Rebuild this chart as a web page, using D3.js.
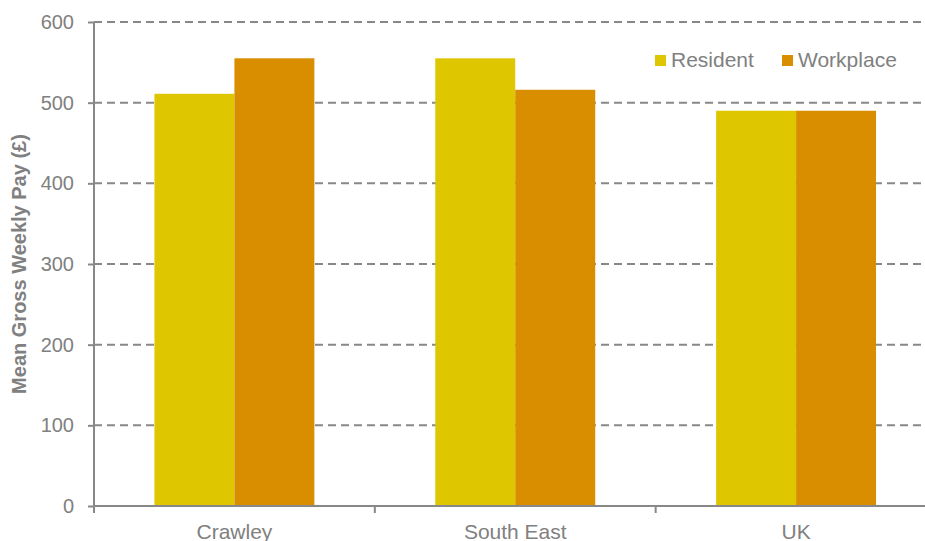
<!DOCTYPE html>
<html>
<head>
<meta charset="utf-8">
<script src="https://cdn.jsdelivr.net/npm/d3@7"></script>
<style>
  html, body { margin: 0; padding: 0; background: #fff; overflow: hidden; }
  text { font-family: "Liberation Sans", Arial, sans-serif; fill: #808080; }
</style>
</head>
<body>
<svg id="chart" width="925" height="541"></svg>
<script>
const categories = ["Crawley", "South East", "UK"];
const seriesNames = ["Resident", "Workplace"];
const residentValues = [511, 555, 490];
const workplaceValues = [555, 516, 490];
const yTicks = [0, 100, 200, 300, 400, 500, 600];
const yTitle = "Mean Gross Weekly Pay (£)";
const colors = ["#DEC700", "#D98E00"];

(function () {
const svg = d3.select("#chart");
const mLeft = 94, mRight = 936.5, mTop = 22, mBottom = 506;
const grey = "#888888";

const x0 = d3.scaleBand().domain(categories).range([mLeft, mRight]).padding(0);
const x1 = d3.scaleBand().domain(seriesNames).range([0, x0.bandwidth()])
  .paddingInner(0).paddingOuter(0.756);
const y = d3.scaleLinear().domain([0, 600]).range([mBottom, mTop]);

// gridlines
svg.append("g").selectAll("line").data(yTicks.filter(d => d > 0)).join("line")
  .attr("x1", mLeft).attr("x2", mRight)
  .attr("y1", d => y(d)).attr("y2", d => y(d))
  .attr("stroke", grey).attr("stroke-width", 2).attr("stroke-dasharray", "8,5");

const data = categories.map((c, i) => ({ cat: c, vals: [residentValues[i], workplaceValues[i]] }));

// bars
const groups = svg.append("g").selectAll("g").data(data).join("g")
  .attr("transform", d => `translate(${x0(d.cat)},0)`);
groups.selectAll("rect").data(d => d.vals.map((v, j) => ({ key: seriesNames[j], v, j })))
  .join("rect")
  .attr("x", d => x1(d.key))
  .attr("width", x1.bandwidth())
  .attr("y", d => y(d.v))
  .attr("height", d => y(0) - y(d.v))
  .attr("fill", d => colors[d.j]);

// y axis
const yAxis = d3.axisLeft(y).tickValues(yTicks).tickSize(6).tickPadding(14).tickFormat(d3.format("d"));
const gy = svg.append("g").attr("transform", `translate(${mLeft},0)`).call(yAxis);
gy.select(".domain").attr("stroke", grey).attr("stroke-width", 2).attr("d", `M0,${mTop}V${mBottom}`);
gy.selectAll(".tick line").attr("stroke", grey).attr("stroke-width", 2);
gy.selectAll(".tick text").attr("font-size", 20).attr("fill", "#808080")
  .style("font-family", '"Liberation Sans", Arial, sans-serif');

// x axis
const xAxis = d3.axisBottom(x0).tickSize(0).tickPadding(0);
const gx = svg.append("g").attr("transform", `translate(0,${mBottom})`).call(xAxis);
gx.select(".domain").attr("stroke", grey).attr("stroke-width", 2).attr("d", `M${mLeft},0H${mRight}`);
gx.selectAll(".tick text").attr("font-size", 21).attr("fill", "#808080")
  .attr("dy", null).attr("y", 33)
  .style("font-family", '"Liberation Sans", Arial, sans-serif');
// category boundary ticks
const bounds = categories.map(c => x0(c)).concat([x0(categories[categories.length - 1]) + x0.bandwidth()]);
svg.append("g").selectAll("line").data(bounds).join("line")
  .attr("x1", d => d).attr("x2", d => d)
  .attr("y1", mBottom).attr("y2", mBottom + 7)
  .attr("stroke", grey).attr("stroke-width", 2);

// y title
svg.append("text")
  .attr("transform", `translate(26,${(mTop + mBottom) / 2}) rotate(-90)`)
  .attr("text-anchor", "middle")
  .attr("font-size", 20).attr("font-weight", "bold")
  .text(yTitle);

// legend
const legendX = [655, 782];
const lg = svg.append("g").selectAll("g").data(seriesNames).join("g")
  .attr("transform", (d, i) => `translate(${legendX[i]},55)`);
lg.append("rect").attr("width", 11).attr("height", 11).attr("fill", (d, i) => colors[i]);
lg.append("text").attr("x", 16).attr("y", 12).attr("font-size", 21).text(d => d);
})();
</script>
</body>
</html>
